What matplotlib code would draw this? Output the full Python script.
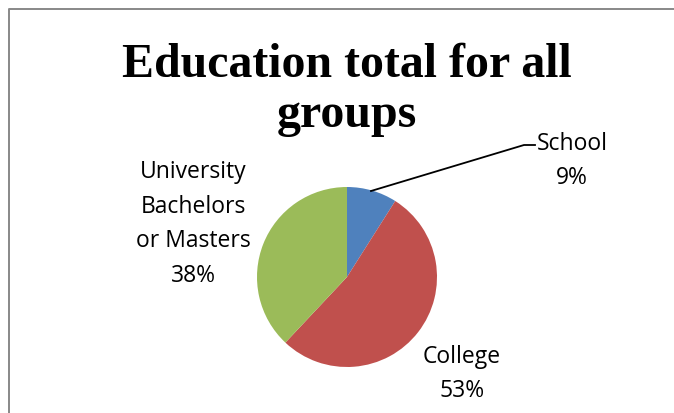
import matplotlib.pyplot as plt

# data
categories = ["School", "College", "University\nBachelors\nor Masters"]
shares = [9, 53, 38]
colors = ["#4F81BD", "#C0504D", "#9BBB59"]
title = "Education total for all\ngroups"

W, H = 674, 414
fig = plt.figure(figsize=(W / 100, H / 100), dpi=100)
ax = fig.add_axes([0, 0, 1, 1])

# chart border (cut off at right and bottom)
ax.plot([8.5, 8.5, W + 5], [-5, H - 9.5, H - 9.5], color="#888888", lw=1.4)

cx, cy, r = 347, H - 278, 90
ax.pie(shares, colors=colors, startangle=90, counterclock=False,
       center=(cx, cy), radius=r, frame=True,
       wedgeprops=dict(linewidth=0))
ax.set_xlim(0, W)
ax.set_ylim(0, H)
ax.set_aspect("equal")
ax.axis("off")

ax.text(cx, H - 90, title, ha="center", va="center", fontsize=34.5,
        fontweight="bold", family="Liberation Serif", linespacing=1.2)

lab_font = dict(fontsize=16.5, family="Open Sans", ha="center", va="center",
                linespacing=1.6)
ax.text(572, H - 161, f"{categories[0]}\n{shares[0]}%", **lab_font)
ax.text(462, H - 374, f"{categories[1]}\n{shares[1]}%", **lab_font)
ax.text(193, H - 224, f"{categories[2]}\n{shares[2]}%", **lab_font)

# leader line for School
ax.plot([371, 524, 535], [H - 192, H - 146, H - 146], color="black", lw=1.3)

fig.savefig("out.png", dpi=100)
